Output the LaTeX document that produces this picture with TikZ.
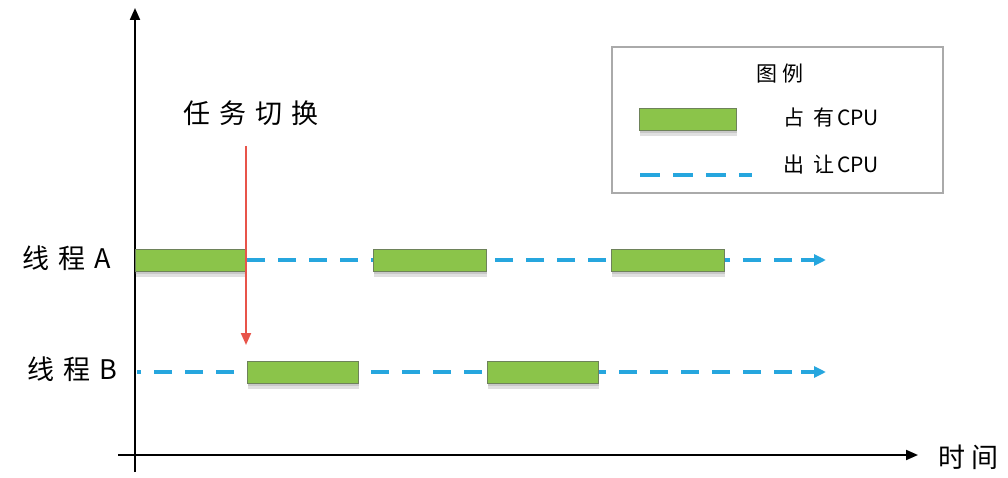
\documentclass[tikz,border=0pt]{standalone}
\usepackage{fontspec}
\setmainfont{Noto Sans CJK SC}
\usetikzlibrary{arrows.meta,shadows}
\definecolor{busy}{RGB}{139,196,74}
\definecolor{busyedge}{RGB}{110,130,90}
\definecolor{idle}{RGB}{38,166,222}
\definecolor{switchred}{RGB}{232,84,74}
\definecolor{framegray}{RGB}{170,170,170}
\tikzset{
  run/.style={fill=busy, draw=busyedge, line width=0.8pt, inner sep=0pt, minimum height=22pt,
    preaction={fill=black, opacity=0.12, transform canvas={yshift=-6pt}},
    drop shadow={opacity=0.25, shadow xshift=0pt, shadow yshift=-3pt}},
  wait/.style={idle, line width=4pt, dash pattern=on 18pt off 13pt},
  waitend/.style={idle, line width=4pt, -{Triangle[length=12pt,width=11pt]}},
  axis/.style={black, line width=2pt, -{Triangle[length=12pt,width=10pt]}},
  lbl/.style={font=\fontsize{27}{30}\selectfont, inner sep=0pt},
  leg/.style={font=\fontsize{21}{24}\selectfont, inner sep=0pt}
}
\begin{document}
\begin{tikzpicture}[x=1pt,y=-1pt]
\useasboundingbox (0,0) rectangle (1008,478);

% axes
\coordinate (o1) at (135,472);
\coordinate (ytop) at (135,8);
\coordinate (o2) at (118,455);
\coordinate (xend) at (918,455);
\draw[axis] (o1) -- (ytop);
\draw[axis] (o2) -- (xend);
\node[lbl, anchor=west] (tlabel) at (938,457) {时\hspace{6pt}间};

% thread labels
\node[lbl] (ta) at (67,258) {线\hspace{9pt}程\hspace{9pt}A};
\node[lbl] (tb) at (72,369) {线\hspace{9pt}程\hspace{9pt}B};

% thread A timeline (dashes laid out from the arrow end backwards)
\coordinate (aS) at (246,260);
\coordinate (aE) at (826,260);
\draw[wait] (792,260) -- (aS);
\draw[waitend] (801,260) -- (aE);
\node[run, minimum width=110pt] (a1) at (190,260) {};
\node[run, minimum width=113pt] (a2) at (430,260) {};
\node[run, minimum width=113pt] (a3) at (668,260) {};

% thread B timeline
\coordinate (bS) at (137,372);
\coordinate (bE) at (826,372);
\draw[wait] (792,372) -- (bS);
\draw[waitend] (801,372) -- (bE);
\node[run, minimum width=111pt] (b1) at (303,372) {};
\node[run, minimum width=111pt] (b2) at (543,372) {};

% task switch
\node[lbl] (sw) at (251,113) {任\hspace{9pt}务\hspace{9pt}切\hspace{9pt}换};
\coordinate (swtop) at (246,146);
\coordinate (swend) at (246,345);
\draw[switchred, line width=2pt, -{Triangle[length=12pt,width=10pt]}] (swtop) -- (swend);

% legend
\node[draw=framegray, line width=1.2pt, minimum width=331pt, minimum height=146pt, inner sep=0pt] (legend) at (777.5,120) {};
\node[leg] (legtitle) at (780,74) {图\hspace{6pt}例};
\node[run, minimum width=97pt] (legbar) at (688,119) {};
\node[leg, anchor=west] (legbusy) at (783,118) {占\hspace{9pt}有\hspace{3pt}CPU};
\coordinate (ld1) at (640,175);
\coordinate (ld2) at (752,175);
\draw[wait, dash pattern=on 20pt off 13pt] (ld1) -- (ld2);
\node[leg, anchor=west] (legidle) at (783,165) {出\hspace{9pt}让\hspace{3pt}CPU};
\end{tikzpicture}
\end{document}
